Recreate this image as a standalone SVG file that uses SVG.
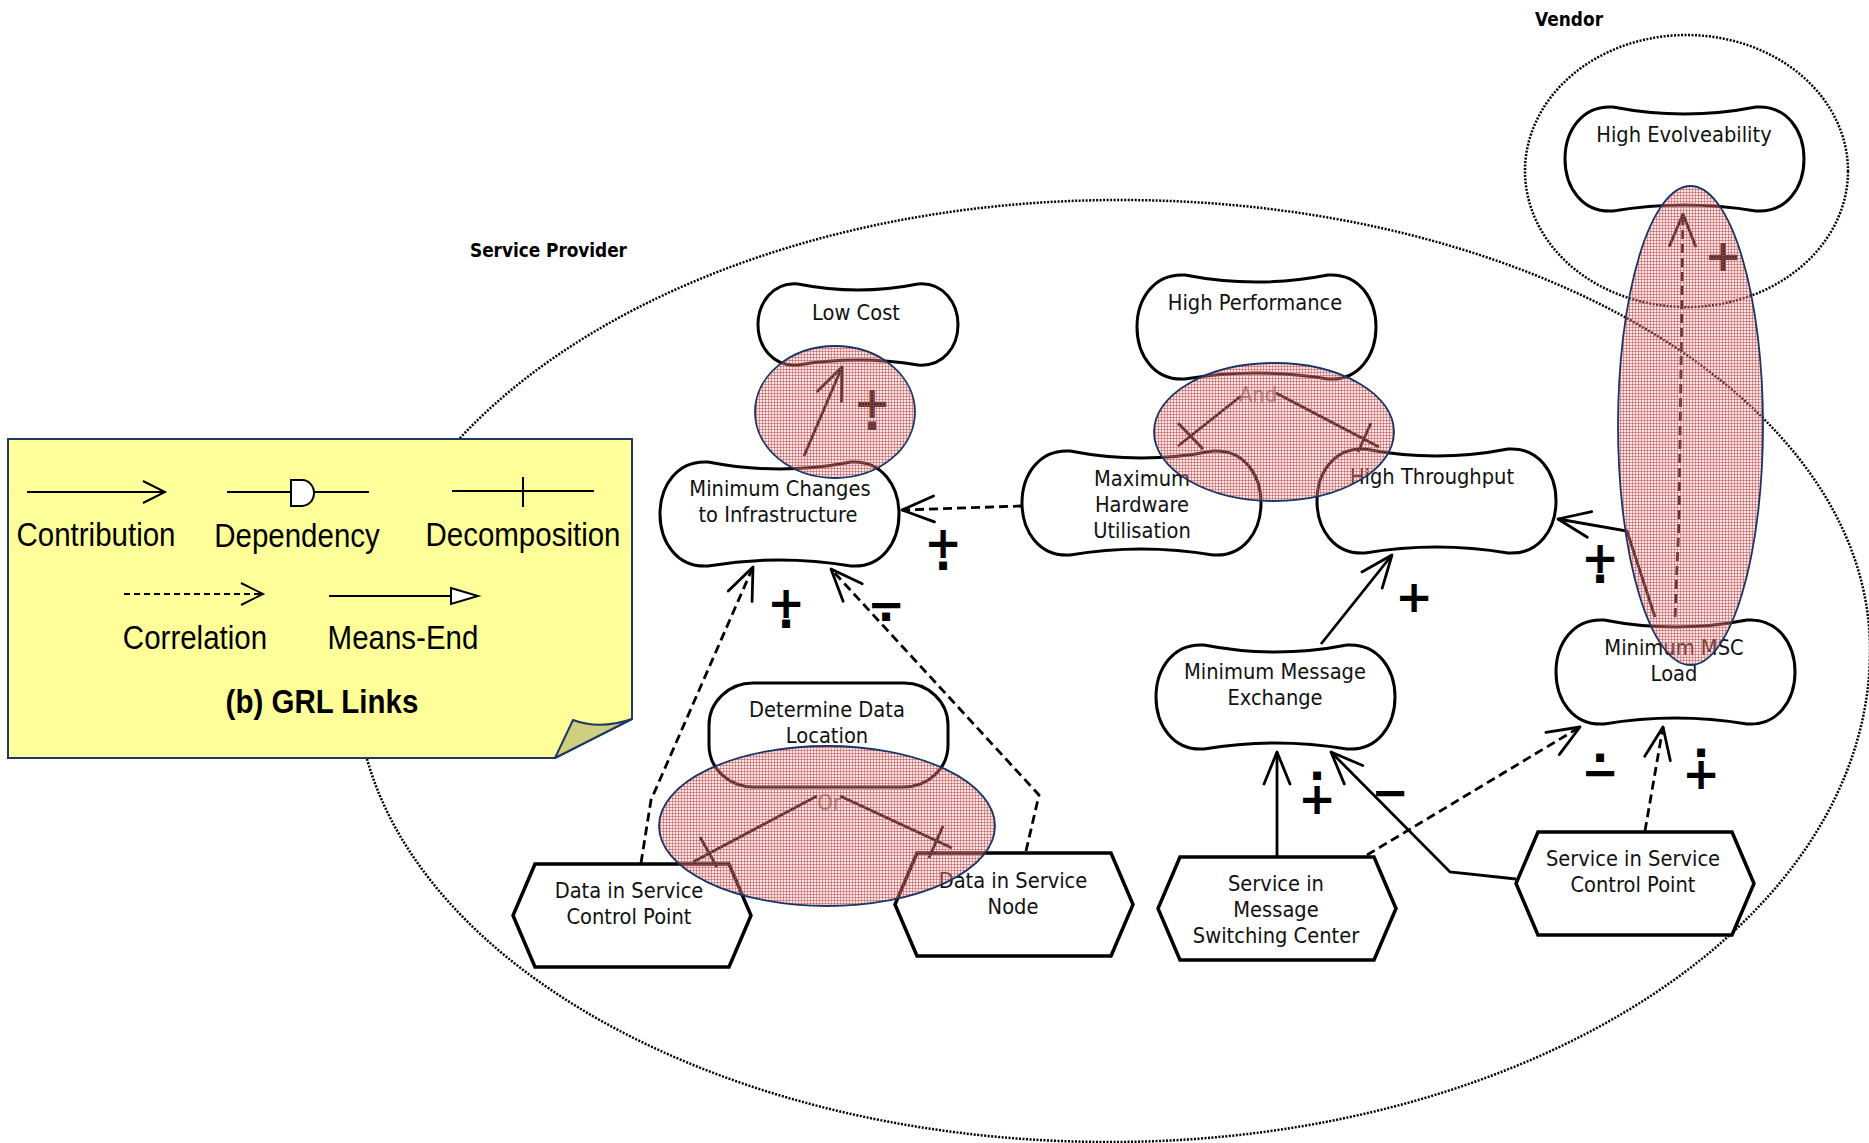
<svg xmlns="http://www.w3.org/2000/svg" width="1869" height="1143" viewBox="0 0 1869 1143">
<style>
.sg{fill:#fff;stroke:#000;stroke-width:3}
.hex{fill:#fff;stroke:#000;stroke-width:3.5}
.t,.lg,.actl,.gray{transform-box:fill-box;transform-origin:50% 50%;transform:scaleY(1.12)}
.t{font-family:"DejaVu Sans",Verdana,sans-serif;font-size:19.5px;text-anchor:middle;fill:#111}
.lk{fill:none;stroke:#000;stroke-width:2.8}
.cor{stroke-dasharray:9 5}
.sym{font-family:"DejaVu Sans",sans-serif;font-weight:bold;font-size:45px;text-anchor:middle;fill:#000}
.act{fill:none;stroke:#000;stroke-width:2.5;stroke-dasharray:2 1.5}
.actl{font-family:"DejaVu Sans",sans-serif;font-weight:bold;font-size:17px;fill:#000}
.ov{fill:url(#hatch);stroke:#1c3566;stroke-width:1.8}
.lg{font-family:"Liberation Sans",Arial,sans-serif;font-size:29.5px;text-anchor:middle;fill:#000}
.lgl{fill:none;stroke:#000;stroke-width:2}
.gray{font-family:"DejaVu Sans",sans-serif;font-size:19.5px;text-anchor:middle;fill:#8a8a8a}
</style>
<defs>
<pattern id="hatch" width="3" height="3" patternUnits="userSpaceOnUse">
<rect width="3" height="3" fill="#f0b0b0" fill-opacity="0.3"/>
<rect width="3" height="1" fill="#c04040" fill-opacity="0.5"/>
<rect width="1" height="3" fill="#c04040" fill-opacity="0.5"/>
</pattern>
<marker id="arr" markerUnits="userSpaceOnUse" markerWidth="40" markerHeight="40" viewBox="-36 -20 40 40" refX="0" refY="0" orient="auto">
<path d="M-32,-13 L0,0 L-32,13" fill="none" stroke="#000" stroke-width="2.8" stroke-linecap="round" stroke-linejoin="round"/>
</marker>
<marker id="arrs" markerUnits="userSpaceOnUse" markerWidth="30" markerHeight="30" viewBox="-26 -15 30 30" refX="0" refY="0" orient="auto">
<path d="M-22,-11 L0,0 L-22,11" fill="none" stroke="#000" stroke-width="2"/>
</marker>
<path id="sg" d="M48,0 Q119.5,14 191,0 C222,-2 239,24 239,52 C239,80 222,106 191,104 Q119.5,92 48,104 C17,106 0,80 0,52 C0,24 17,-2 48,0 Z"/>
<path id="hx" d="M22,0 L216,0 L238,51.5 L216,103 L22,103 L0,51.5 Z"/>
</defs>

<g id="actors">
<path class="act" d="M356,680 C356,415 698,200 1120,200 C1534,200 1870,401 1870,650 C1870,922 1530,1142 1110,1142 C694,1142 356,935 356,680 Z"/>
<text class="actl" x="470" y="256" textLength="157">Service Provider</text>
<ellipse class="act" cx="1686.5" cy="171" rx="161.5" ry="136"/>
<text class="actl" x="1535" y="25">Vendor</text>
</g>

<g id="legend">
<path d="M8,439 L632,439 L632,719 L555,758 L8,758 Z" fill="#ffff99" stroke="#1f3864" stroke-width="2"/>
<path d="M555,758 L573,720 Q600,730 632,719 Z" fill="#cfcf80" stroke="#1f3864" stroke-width="2" stroke-linejoin="round"/>
<line class="lgl" x1="27" y1="492" x2="165" y2="492" marker-end="url(#arrs)"/>
<line class="lgl" x1="227" y1="492" x2="369" y2="492"/>
<path d="M291,480 L302,480 A12,13 0 0 1 302,506 L291,506 Z" fill="#fff" stroke="#000" stroke-width="2"/>
<line class="lgl" x1="452" y1="491" x2="594" y2="491"/>
<line class="lgl" x1="523" y1="477" x2="523" y2="507"/>
<line class="lgl" x1="124" y1="594" x2="263" y2="594" stroke-dasharray="6 4" marker-end="url(#arrs)"/>
<line class="lgl" x1="329" y1="596" x2="451" y2="596"/>
<path d="M451,588 L478,596 L451,604 Z" fill="#fff" stroke="#000" stroke-width="2"/>
<text class="lg" x="96" y="545">Contribution</text>
<text class="lg" x="297" y="546">Dependency</text>
<text class="lg" x="523" y="545">Decomposition</text>
<text class="lg" x="195" y="648">Correlation</text>
<text class="lg" x="403" y="648">Means-End</text>
<text class="lg" x="322" y="712" font-weight="bold">(b) GRL Links</text>
</g>

<g id="node-low-cost">
<path class="sg" transform="translate(758,284)" d="M40,0 Q100,12 160,0 C186,-2 200,20 200,40.5 C200,62 186,83 160,81 Q100,71 40,81 C14,83 0,62 0,40.5 C0,20 14,-2 40,0 Z"/>
<text class="t" x="856" y="319">Low Cost</text>
</g>
<g id="node-min-changes">
<use href="#sg" class="sg" x="660" y="462"/>
<text class="t" x="780" y="495">Minimum Changes</text>
<text class="t" x="778" y="521">to Infrastructure</text>
</g>
<g id="node-high-performance">
<use href="#sg" class="sg" x="1137" y="275"/>
<text class="t" x="1255" y="309">High Performance</text>
</g>
<g id="node-max-hw">
<use href="#sg" class="sg" x="1022" y="451"/>
<text class="t" x="1142" y="485">Maximum</text>
<text class="t" x="1142" y="511">Hardware</text>
<text class="t" x="1142" y="537">Utilisation</text>
</g>
<g id="node-high-throughput">
<use href="#sg" class="sg" x="1317" y="449"/>
<text class="t" x="1432" y="483">High Throughput</text>
</g>
<g id="node-min-msg">
<use href="#sg" class="sg" x="1156" y="645"/>
<text class="t" x="1275" y="678">Minimum Message</text>
<text class="t" x="1275" y="704">Exchange</text>
</g>
<g id="node-min-msc">
<use href="#sg" class="sg" x="1556" y="620"/>
<text class="t" x="1674" y="654">Minimum MSC</text>
<text class="t" x="1674" y="680">Load</text>
</g>
<g id="node-high-evolveability">
<use href="#sg" class="sg" x="1565" y="107"/>
<text class="t" x="1684" y="141">High Evolveability</text>
</g>
<g id="node-determine-data">
<rect class="sg" x="709" y="683" width="239" height="104" rx="44" ry="42"/>
<text class="t" x="827" y="716">Determine Data</text>
<text class="t" x="827" y="742">Location</text>
</g>
<g id="node-data-scp">
<use href="#hx" class="hex" x="513" y="864"/>
<text class="t" x="629" y="897">Data in Service</text>
<text class="t" x="629" y="923">Control Point</text>
</g>
<g id="node-data-sn">
<use href="#hx" class="hex" x="895" y="853"/>
<text class="t" x="1013" y="887">Data in Service</text>
<text class="t" x="1013" y="913">Node</text>
</g>
<g id="node-svc-msc">
<use href="#hx" class="hex" x="1158" y="857"/>
<text class="t" x="1276" y="890">Service in</text>
<text class="t" x="1276" y="916">Message</text>
<text class="t" x="1276" y="942">Switching Center</text>
</g>
<g id="node-svc-scp">
<use href="#hx" class="hex" x="1516" y="832"/>
<text class="t" x="1633" y="865">Service in Service</text>
<text class="t" x="1633" y="891">Control Point</text>
</g>

<g id="connectors">
<path class="lk" d="M804,456 L842,367" marker-end="url(#arr)"/>
<path class="lk cor" d="M1022,506 L902,510" marker-end="url(#arr)"/>
<path class="lk cor" d="M641,863 L651,800 L753,567" marker-end="url(#arr)"/>
<path class="lk cor" d="M1026,851 L1039,795 L831,569" marker-end="url(#arr)"/>
<path class="lk" d="M1321,644 L1392,555" marker-end="url(#arr)"/>
<path class="lk" d="M1277,856 L1277,752" marker-end="url(#arr)"/>
<path class="lk" d="M1516,879 L1450,872 L1331,752" marker-end="url(#arr)"/>
<path class="lk cor" d="M1367,855 L1580,727" marker-end="url(#arr)"/>
<path class="lk cor" d="M1645,831 L1663,727" marker-end="url(#arr)"/>
<path class="lk" d="M1655,617 L1627,531 L1558,519" marker-end="url(#arr)"/>
<path class="lk cor" d="M1675,617 L1679,520 L1683,214" marker-end="url(#arr)"/>
<path class="lk" d="M1241,396 L1178,446 M1178,423 L1203,449"/>
<path class="lk" d="M1276,393 L1379,447 M1371,423 L1358,452"/>
<text class="gray" x="1258" y="401">And</text>
<path class="lk" d="M817,796 L693,862 M700,837 L717,867"/>
<path class="lk" d="M840,796 L952,848 M943,826 L929,858"/>
<text class="gray" x="829" y="809">Or</text>
<text class="sym" x="872" y="418">+<tspan x="872" y="430">.</tspan></text>
<text class="sym" x="943" y="558">+<tspan x="943" y="570">.</tspan></text>
<text class="sym" x="786" y="618">+<tspan x="786" y="628">.</tspan></text>
<text class="sym" x="886" y="620">−<tspan x="886" y="621">.</tspan></text>
<text class="sym" x="1414" y="612">+</text>
<text class="sym" x="1600" y="573">+<tspan x="1600" y="583">.</tspan></text>
<text class="sym" x="1723" y="271">+</text>
<text class="sym" x="1317" y="780">.<tspan x="1317" y="814">+</tspan></text>
<text class="sym" x="1390" y="808">−</text>
<text class="sym" x="1600" y="762">.<tspan x="1600" y="788">−</tspan></text>
<text class="sym" x="1701" y="757">.<tspan x="1701" y="789">+</tspan></text>
</g>

<g id="overlays">
<ellipse class="ov" cx="835" cy="412" rx="80" ry="66"/>
<ellipse class="ov" cx="1274" cy="432" rx="120" ry="69"/>
<ellipse class="ov" cx="827" cy="826" rx="168" ry="80"/>
<ellipse class="ov" cx="1690.5" cy="425.5" rx="72.5" ry="239.5"/>
</g>
</svg>
